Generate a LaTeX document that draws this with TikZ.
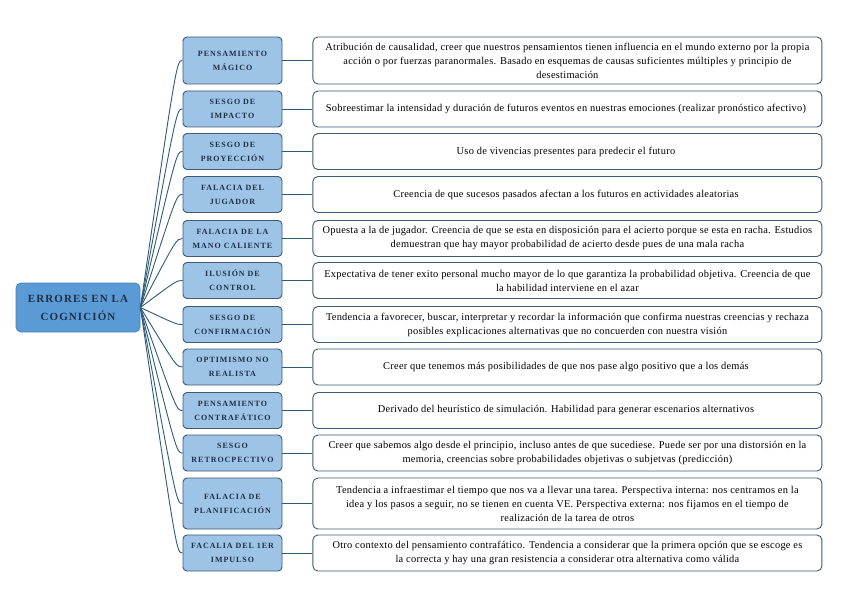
\documentclass[tikz,border=0pt]{standalone}
\usepackage{fontspec}
\setmainfont{Liberation Serif}
\usetikzlibrary{positioning}

\definecolor{rootblue}{HTML}{5B9BD5}
\definecolor{rootedge}{HTML}{4A84BD}
\definecolor{catblue}{HTML}{9DC3E6}
\definecolor{boxedge}{HTML}{3E5B72}
\definecolor{navytext}{HTML}{1F2F46}
\definecolor{branchcol}{HTML}{2E5A74}

\begin{document}
\begin{tikzpicture}[
    x=1pt, y=-1pt,
    node distance=30pt,
    root block/.style={
      rectangle,
      draw=rootedge,
      fill=rootblue,
      line width=0.8pt,
      rounded corners=5pt,
      align=center,
      minimum width=124pt,
      minimum height=49pt,
      text=navytext,
      font=\bfseries\fontsize{11}{18}\selectfont\addfontfeature{LetterSpace=10}
    },
    cat block/.style={
      rectangle,
      draw=boxedge,
      fill=catblue,
      line width=0.9pt,
      rounded corners=4pt,
      align=center,
      minimum width=99pt,
      minimum height=36pt,
      inner sep=2pt,
      text=navytext,
      font=\bfseries\fontsize{8}{14}\selectfont\addfontfeature{LetterSpace=12}
    },
    desc block/.style={
      rectangle,
      draw=boxedge,
      fill=white,
      line width=0.9pt,
      rounded corners=5pt,
      align=center,
      minimum width=509pt,
      minimum height=36pt,
      inner sep=3pt,
      font=\fontsize{10.4}{14}\selectfont\addfontfeature{LetterSpace=2.5}
    },
    branch line/.style={
      draw=branchcol,
      line width=0.9pt
    }
  ]

    \useasboundingbox (0,0) rectangle (848,599);

    \node[root block] (root) at (78,307.5) {ERRORES EN LA\\COGNICIÓN};

    \node[cat block, minimum height=47pt] (cat1) at (232.5,60.5) {PENSAMIENTO\\MÁGICO};
    \node[cat block] (cat2) at (232.5,109) {SESGO DE\\IMPACTO};
    \node[cat block] (cat3) at (232.5,151.5) {SESGO DE\\PROYECCIÓN};
    \node[cat block] (cat4) at (232.5,194.5) {FALACIA DEL\\JUGADOR};
    \node[cat block] (cat5) at (232.5,238.5) {FALACIA DE LA\\MANO CALIENTE};
    \node[cat block] (cat6) at (232.5,280.5) {ILUSIÓN DE\\CONTROL};
    \node[cat block] (cat7) at (232.5,324.5) {SESGO DE\\CONFIRMACIÓN};
    \node[cat block] (cat8) at (232.5,367) {OPTIMISMO NO\\REALISTA};
    \node[cat block] (cat9) at (232.5,410.5) {PENSAMIENTO\\CONTRAFÁTICO};
    \node[cat block] (cat10) at (232.5,453) {SESGO\\RETROCPECTIVO};
    \node[cat block, minimum height=51pt] (cat11) at (232.5,503.5) {FALACIA DE\\PLANIFICACIÓN};
    \node[cat block] (cat12) at (232.5,553) {FACALIA DEL 1ER\\IMPULSO};

    \node[desc block, minimum height=47pt, right=of cat1] (desc1) {
      Atribución de causalidad, creer que nuestros pensamientos tienen influencia en el mundo externo por la propia\\
      acción o por fuerzas paranormales. Basado en esquemas de causas suficientes múltiples y principio de\\
      desestimación
    };
    \node[desc block, right=of cat2] (desc2) {
      Sobreestimar la intensidad y duración de futuros eventos en nuestras emociones (realizar pronóstico afectivo)
    };
    \node[desc block, right=of cat3] (desc3) {
      Uso de vivencias presentes para predecir el futuro
    };
    \node[desc block, right=of cat4] (desc4) {
      Creencia de que sucesos pasados afectan a los futuros en actividades aleatorias
    };
    \node[desc block, right=of cat5] (desc5) {
      Opuesta a la de jugador. Creencia de que se esta en disposición para el acierto porque se esta en racha. Estudios\\
      demuestran que hay mayor probabilidad de acierto desde pues de una mala racha
    };
    \node[desc block, right=of cat6] (desc6) {
      Expectativa de tener exito personal mucho mayor de lo que garantiza la probabilidad objetiva. Creencia de que\\
      la habilidad interviene en el azar
    };
    \node[desc block, right=of cat7] (desc7) {
      Tendencia a favorecer, buscar, interpretar y recordar la información que confirma nuestras creencias y rechaza\\
      posibles explicaciones alternativas que no concuerden con nuestra visión
    };
    \node[desc block, right=of cat8] (desc8) {
      Creer que tenemos más posibilidades de que nos pase algo positivo que a los demás
    };
    \node[desc block, right=of cat9] (desc9) {
      Derivado del heurístico de simulación. Habilidad para generar escenarios alternativos
    };
    \node[desc block, right=of cat10] (desc10) {
      Creer que sabemos algo desde el principio, incluso antes de que sucediese. Puede ser por una distorsión en la\\
      memoria, creencias sobre probabilidades objetivas o subjetvas (predicción)
    };
    \node[desc block, minimum height=51pt, right=of cat11] (desc11) {
      Tendencia a infraestimar el tiempo que nos va a llevar una tarea. Perspectiva interna: nos centramos en la\\
      idea y los pasos a seguir, no se tienen en cuenta VE. Perspectiva externa: nos fijamos en el tiempo de\\
      realización de la tarea de otros
    };
    \node[desc block, right=of cat12] (desc12) {
      Otro contexto del pensamiento contrafático. Tendencia a considerar que la primera opción que se escoge es\\
      la correcta y hay una gran resistencia a considerar otra alternativa como válida
    };

    \draw[branch line] (root.east) .. controls ([xshift=-6pt]cat1.west) .. (cat1.west);
    \draw[branch line] (root.east) .. controls ([xshift=-6pt]cat2.west) .. (cat2.west);
    \draw[branch line] (root.east) .. controls ([xshift=-6pt]cat3.west) .. (cat3.west);
    \draw[branch line] (root.east) .. controls ([xshift=-6pt]cat4.west) .. (cat4.west);
    \draw[branch line] (root.east) .. controls ([xshift=-6pt]cat5.west) .. (cat5.west);
    \draw[branch line] (root.east) .. controls ([xshift=-6pt]cat6.west) .. (cat6.west);
    \draw[branch line] (root.east) .. controls ([xshift=-6pt]cat7.west) .. (cat7.west);
    \draw[branch line] (root.east) .. controls ([xshift=-6pt]cat8.west) .. (cat8.west);
    \draw[branch line] (root.east) .. controls ([xshift=-6pt]cat9.west) .. (cat9.west);
    \draw[branch line] (root.east) .. controls ([xshift=-6pt]cat10.west) .. (cat10.west);
    \draw[branch line] (root.east) .. controls ([xshift=-6pt]cat11.west) .. (cat11.west);
    \draw[branch line] (root.east) .. controls ([xshift=-6pt]cat12.west) .. (cat12.west);

    \draw[branch line] (cat1) -- (desc1);
    \draw[branch line] (cat2) -- (desc2);
    \draw[branch line] (cat3) -- (desc3);
    \draw[branch line] (cat4) -- (desc4);
    \draw[branch line] (cat5) -- (desc5);
    \draw[branch line] (cat6) -- (desc6);
    \draw[branch line] (cat7) -- (desc7);
    \draw[branch line] (cat8) -- (desc8);
    \draw[branch line] (cat9) -- (desc9);
    \draw[branch line] (cat10) -- (desc10);
    \draw[branch line] (cat11) -- (desc11);
    \draw[branch line] (cat12) -- (desc12);

  \end{tikzpicture}
\end{document}
